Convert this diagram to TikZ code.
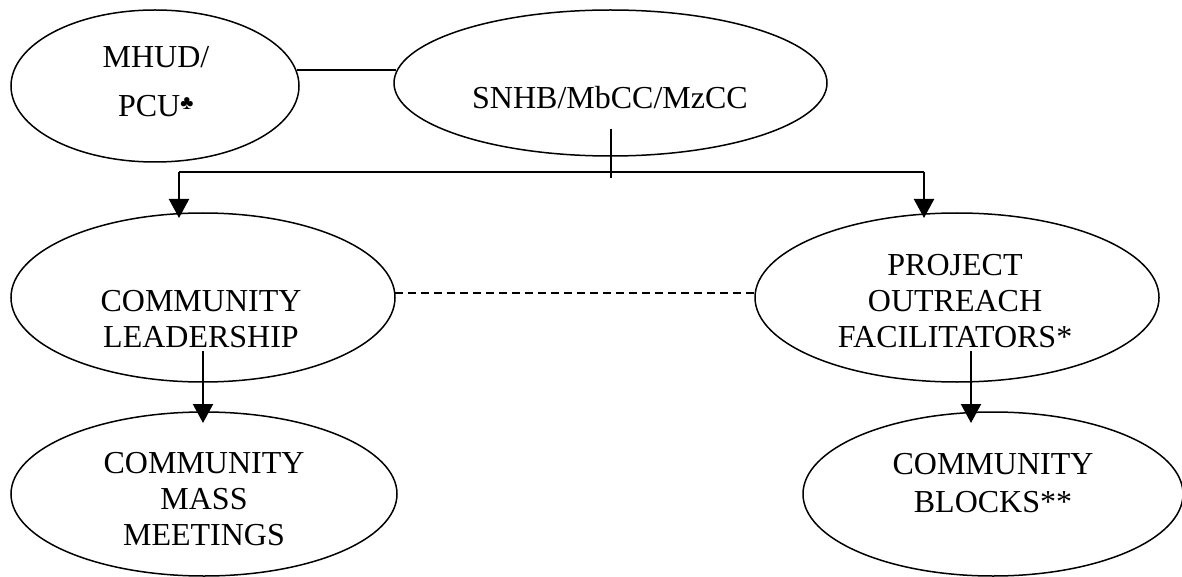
\documentclass[tikz,border=0pt]{standalone}
\usepackage{fontspec}
\setmainfont{Liberation Serif}
\usetikzlibrary{shapes.geometric,arrows.meta}
\tikzset{
  oval/.style={ellipse, draw=black, line width=1.5pt, inner sep=0pt},
  lbl/.style={align=center, inner sep=0pt, font=\fontsize{32}{36}\selectfont},
  conn/.style={line width=2.2pt},
  dconn/.style={line width=2pt, dash pattern=on 8pt off 5pt},
  arr/.style={line width=2.2pt, -{Triangle[width=20pt,length=19pt]}}
}
\begin{document}
\begin{tikzpicture}[x=1pt,y=-1pt]
\useasboundingbox (0,0) rectangle (1182,577);
% ellipses
\node[oval, minimum width=288pt, minimum height=152pt] (e1) at (155,86) {};
\node[oval, minimum width=433pt, minimum height=146pt] (e2) at (610.5,83) {};
\node[oval, minimum width=384pt, minimum height=169pt] (e3) at (203,297.5) {};
\node[oval, minimum width=404pt, minimum height=169pt] (e4) at (957,297.5) {};
\node[oval, minimum width=386pt, minimum height=164pt] (e5) at (204,494) {};
\node[oval, minimum width=380pt, minimum height=164pt] (e6) at (993,494) {};
% texts
\node[lbl] (t1) at (156,82) {MHUD/\\[13pt]PCU\textsuperscript{\raisebox{-2pt}{\fontsize{20}{20}\selectfont ♣}}};
\node[lbl] (t2) at (610,97.5) {SNHB/MbCC/MzCC};
\node[lbl] (t3) at (201,319.5) {COMMUNITY\\LEADERSHIP};
\node[lbl] (t4) at (955,301.5) {PROJECT\\OUTREACH\\FACILITATORS*};
\node[lbl] (t5) at (204,499) {COMMUNITY\\MASS\\MEETINGS};
\node[lbl] (t6) at (993,483.5) {COMMUNITY\\[2pt]BLOCKS**};
% connector points
\coordinate (a1) at (297,70);
\coordinate (a2) at (396,70);
\coordinate (tickTop) at (611,129);
\coordinate (tickBot) at (611,178);
\coordinate (hl) at (179,172);
\coordinate (hr) at (924,172);
\coordinate (t3in) at (179,218);
\coordinate (t4in) at (924,218);
\coordinate (d1) at (395,293);
\coordinate (d2) at (755,293);
\coordinate (s35) at (203,351);
\coordinate (e35) at (203,423);
\coordinate (s46) at (971,351);
\coordinate (e46) at (971,423);
% connectors
\draw[conn] (a1) -- (a2);
\draw[conn] (tickTop) -- (tickBot);
\draw[conn] (hl) -- (hr);
\draw[arr] (hl) -- (t3in);
\draw[arr] (hr) -- (t4in);
\draw[dconn] (d1) -- (d2);
\draw[arr] (s35) -- (e35);
\draw[arr] (s46) -- (e46);
\end{tikzpicture}
\end{document}
